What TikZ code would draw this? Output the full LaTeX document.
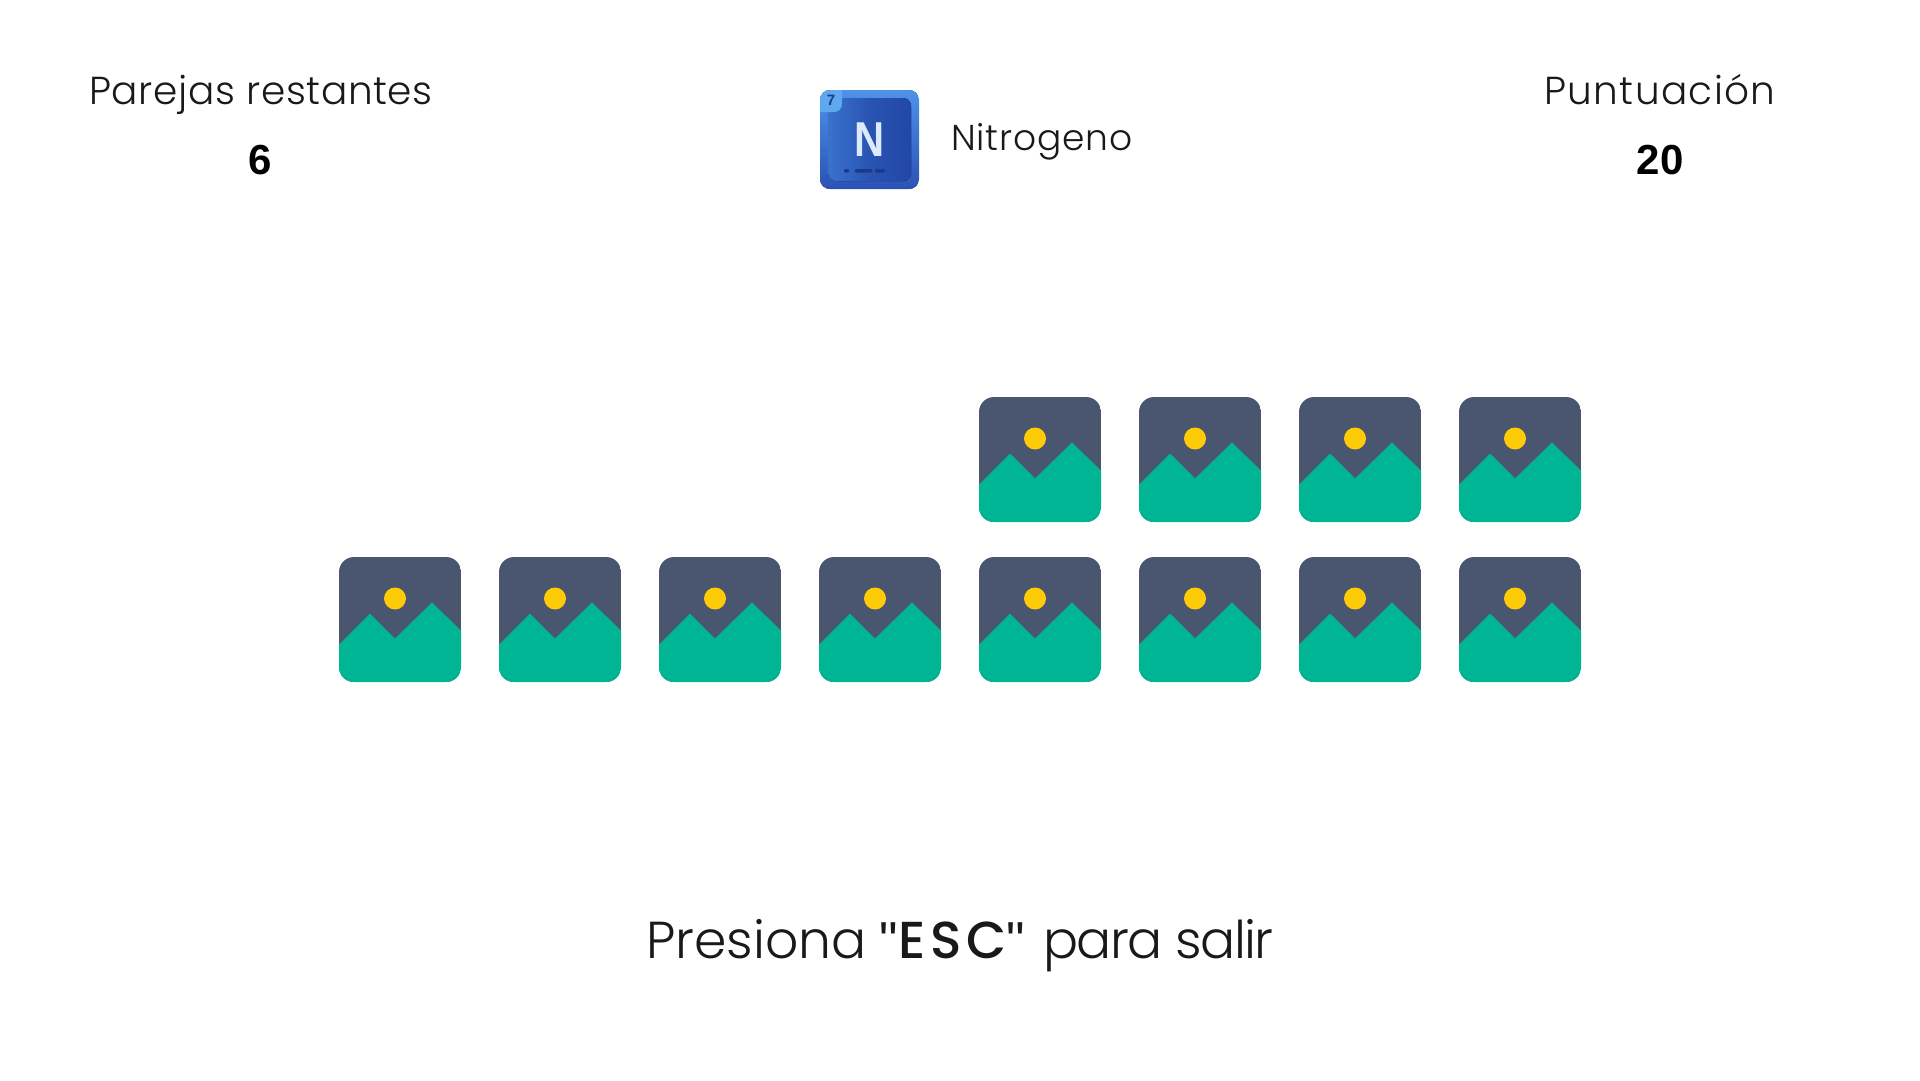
\documentclass[tikz,border=0pt]{standalone}
\usepackage{fontspec}
\setmainfont{Poppins}[UprightFont=* Light,BoldFont=* Medium]
\newfontfamily\numfont{Liberation Sans}
\definecolor{slatec}{HTML}{4A5570}
\definecolor{greenc}{HTML}{00B594}
\definecolor{sunc}{HTML}{FFCB05}
\definecolor{tileT}{HTML}{4F93E8}
\definecolor{tileB}{HTML}{2A52B4}
\definecolor{tabc}{HTML}{5FA8F0}
\definecolor{panelL}{HTML}{3A72CE}
\definecolor{panelD}{HTML}{2247A6}
\definecolor{navyc}{HTML}{1B3A8C}
\definecolor{nletter}{HTML}{DCEBFB}
\tikzset{
  lbl/.style={inner sep=0pt,anchor=base,text=black!90},
  num/.style={inner sep=0pt,anchor=base,text=black,font=\numfont\bfseries\fontsize{42}{42}\selectfont\addfontfeatures{LetterSpace=2}},
  dashbar/.style={fill=navyc,rounded corners=1pt},
  pic icon/.pic={
    \begin{scope}
      \clip[rounded corners=15pt] (0,0) rectangle (122,125);
      \fill[slatec] (0,0) rectangle (122,125);
      \fill[greenc] (0,87.5) -- (31,56.5) -- (56,81.5) -- (93,45.5) -- (122,73.5) -- (122,125) -- (0,125) -- cycle;
    \end{scope}
    \fill[sunc] (56,41.5) circle[radius=11];
  }
}
\begin{document}
\begin{tikzpicture}[x=1pt,y=-1pt]
\useasboundingbox (0,0) rectangle (1920,1080);
\fill[white] (0,0) rectangle (1920,1080);
\node[lbl,font=\fontsize{39}{39}\selectfont\addfontfeatures{LetterSpace=1.6}] (parejas) at (261,104) {Parejas restantes};
\node[num] (six) at (260,174) {6};
\node[lbl,font=\fontsize{39}{39}\selectfont\addfontfeatures{LetterSpace=3.4}] (punt) at (1660,104) {Puntuación};
\node[num] (twenty) at (1660,174) {20};
\node[lbl,font=\fontsize{36}{36}\selectfont\addfontfeatures{LetterSpace=2.4}] (nitro) at (1042,150) {Nitrogeno};
\node[lbl,font=\fontsize{52}{52}\selectfont] (esc) at (960,958) {Presiona\hspace{13pt}{\numfont "}{\bfseries\addfontfeatures{LetterSpace=9.5}ESC}{\numfont "}\hspace{18pt}{\addfontfeatures{LetterSpace=-3}para salir}};
% element tile
\begin{scope}
  \clip[rounded corners=10pt] (820,90) rectangle (919,189);
  \fill[top color=tileT,bottom color=tileB] (820,90) rectangle (919,189);
  \fill[rounded corners=8pt,left color=panelL,right color=panelD,middle color=panelD!70!panelL] (828,98) rectangle (911,181);
  \fill[rounded corners=8pt,tabc] (800,70) rectangle (842,112);
\end{scope}
\node[inner sep=0pt,anchor=base,text=navyc,font=\numfont\bfseries\fontsize{15}{15}\selectfont] (atomic) at (831,105) {7};
\node[inner sep=0pt,anchor=base,text=nletter,xscale=.85,font=\numfont\bfseries\fontsize{49}{49}\selectfont] (symbol) at (870,156) {N};
\fill[dashbar] (844,169) rectangle (849,172.5);
\fill[dashbar] (855,169) rectangle (872,172.5);
\fill[dashbar] (875,169) rectangle (885,172.5);
\foreach \n in {0,1,2,3,4,5,6,7}
  \pic at ({339+160*\n},557) {pic icon};
\foreach \n in {4,5,6,7}
  \pic at ({339+160*\n},397) {pic icon};
\end{tikzpicture}
\end{document}
